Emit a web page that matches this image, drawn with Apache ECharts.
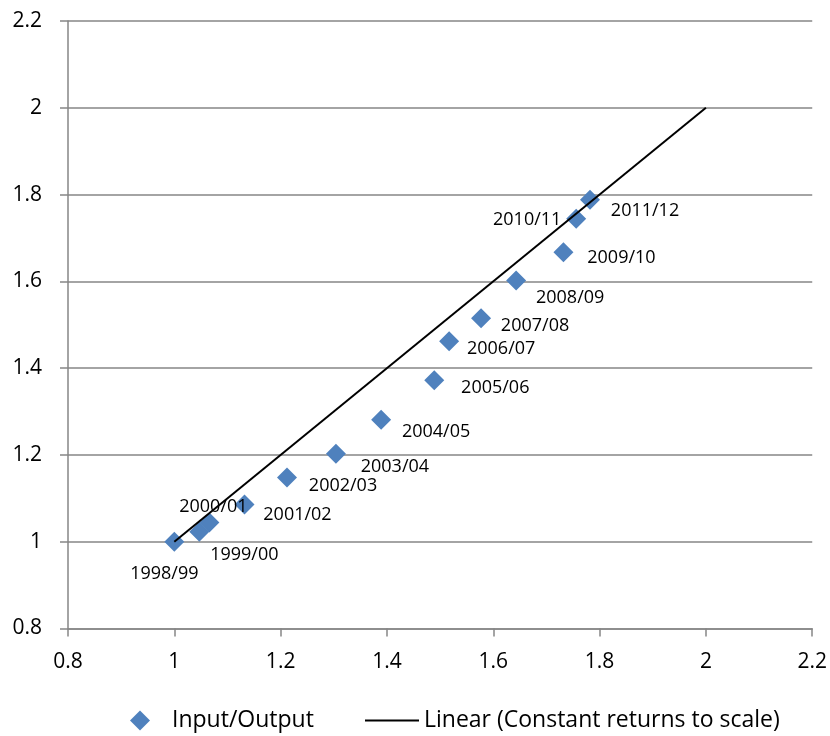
<!DOCTYPE html>
<html>
<head>
<meta charset="utf-8">
<script src="https://cdn.jsdelivr.net/npm/echarts@6/dist/echarts.min.js"></script>
<style>html,body{margin:0;padding:0;background:#fff;}#c{width:830px;height:736px;}</style>
</head>
<body>
<div id="c"></div>
<script>
const years = ['1998/99','1999/00','2000/01','2001/02','2002/03','2003/04','2004/05','2005/06','2006/07','2007/08','2008/09','2009/10','2010/11','2011/12'];
const inputVals = [1.000,1.047,1.066,1.132,1.212,1.304,1.389,1.489,1.517,1.577,1.643,1.732,1.756,1.782];
const outputVals = [1.000,1.023,1.044,1.086,1.148,1.203,1.281,1.372,1.462,1.515,1.602,1.667,1.744,1.788];
const trendX = [1, 2];
const trendY = [1, 2];
const xTicks = [0.8, 2.2, 0.2];
const yTicks = [0.8, 2.2, 0.2];
const labelOffsets = [[-10,32],[45,23],[4,-16],[53,10],[56,8],[59,13],[55,12],[61,8],[52,8],[54,8],[54,17],[58,6],[-49,1],[55,11]];

const FONT = 'Open Sans';
const gray = '#868686';
const chart = echarts.init(document.getElementById('c'));
const scatterData = years.map((n, i) => ({
  name: n,
  value: [inputVals[i], outputVals[i]],
  label: { offset: labelOffsets[i] }
}));
const lineData = trendX.map((x, i) => [x, trendY[i]]);
const SCATTER = 'Input/Output';
const LINE = 'Linear (Constant returns to scale)';

chart.setOption({
  animation: false,
  backgroundColor: '#fff',
  grid: { left: 68, right: 17, top: 21, bottom: 107.5, containLabel: false },
  xAxis: {
    type: 'value', min: xTicks[0], max: xTicks[1], interval: xTicks[2],
    axisLine: { lineStyle: { color: gray, width: 1.5 } },
    axisTick: { show: true, length: 8, lineStyle: { color: gray, width: 1.5 } },
    splitLine: { show: false },
    axisLabel: { color: '#000', fontFamily: FONT, fontSize: 21, margin: 23,
      formatter: v => String(Math.round(v * 10) / 10) }
  },
  yAxis: {
    type: 'value', min: yTicks[0], max: yTicks[1], interval: yTicks[2],
    axisLine: { show: true, lineStyle: { color: gray, width: 1.5 } },
    axisTick: { show: true, length: 8, lineStyle: { color: gray, width: 1.5 } },
    splitLine: { show: true, lineStyle: { color: gray, width: 1.5 } },
    axisLabel: { color: '#000', fontFamily: FONT, fontSize: 21, margin: 26,
      formatter: v => String(Math.round(v * 10) / 10) }
  },
  legend: [
    {
      top: 704, left: 125, itemWidth: 20, itemHeight: 20,
      textStyle: { color: '#000', fontFamily: FONT, fontSize: 23, padding: [0, 0, 0, 17] },
      data: [{ name: SCATTER, icon: 'diamond' }]
    },
    {
      top: 704, left: 360, itemWidth: 54, itemHeight: 2,
      textStyle: { color: '#000', fontFamily: FONT, fontSize: 23 },
      data: [{ name: LINE, icon: 'rect' }]
    }
  ],
  series: [
    {
      name: SCATTER, type: 'scatter', symbol: 'diamond', symbolSize: 20,
      itemStyle: { color: '#4F81BD', opacity: 1 },
      label: { show: true, position: 'inside', formatter: p => p.name, color: '#000',
        fontFamily: FONT, fontSize: 18 },
      data: scatterData, z: 2
    },
    {
      name: LINE, type: 'line', symbol: 'none', showSymbol: false,
      lineStyle: { color: '#000', width: 2 }, itemStyle: { color: '#000' },
      data: lineData, z: 3
    }
  ]
});
</script>
</body>
</html>
